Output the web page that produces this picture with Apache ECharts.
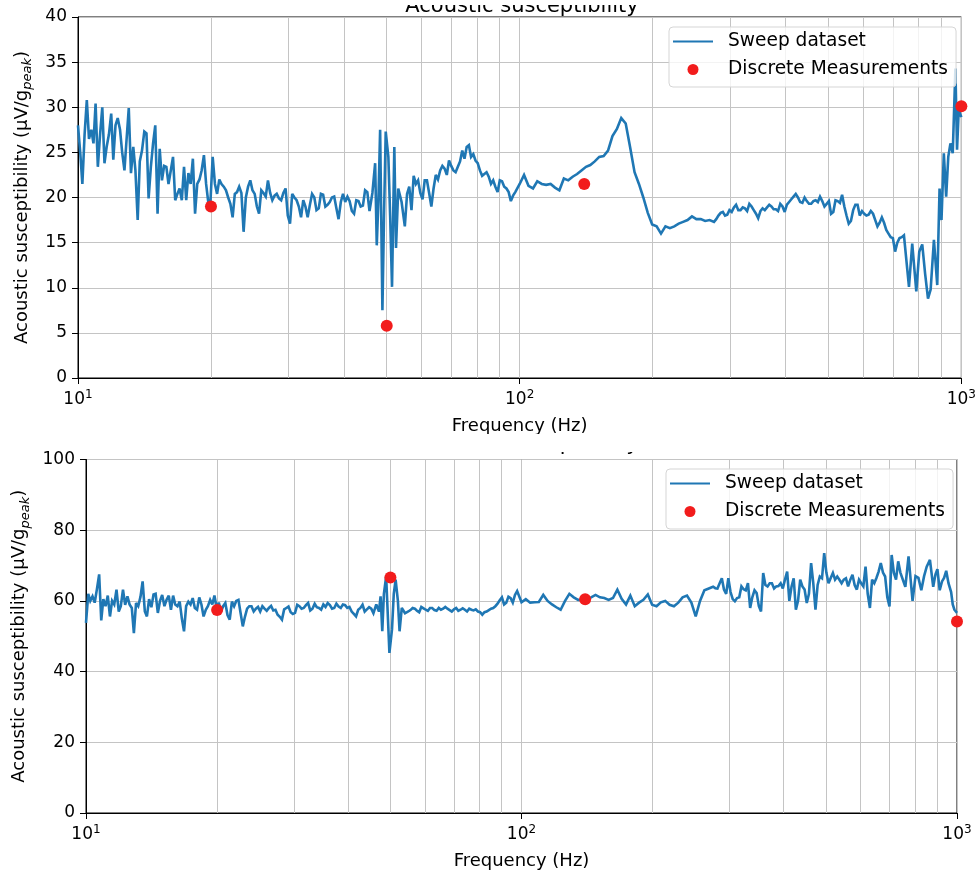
<!DOCTYPE html>
<html><head><meta charset="utf-8">
<script src="https://cdn.jsdelivr.net/npm/echarts@6/dist/echarts.min.js"></script>
<style>html,body{margin:0;padding:0;background:#fff}#c{width:979px;height:871px}</style>
</head><body><div id="c"></div>
<script>
const freqHz = [
10.00,10.12,10.23,10.35,10.47,10.59,10.72,10.84,10.96,11.09,
11.22,11.35,11.48,11.61,11.75,11.89,12.02,12.16,12.30,12.45,
12.59,12.74,12.88,13.03,13.18,13.34,13.49,13.65,13.80,13.96,
14.13,14.29,14.45,14.62,14.79,14.96,15.14,15.31,15.49,15.67,
15.85,16.03,16.22,16.41,16.60,16.79,16.98,17.18,17.38,17.58,
17.78,17.99,18.20,18.41,18.62,18.84,19.05,19.28,19.50,19.72,
19.95,20.42,20.89,21.38,21.88,22.39,22.91,23.44,23.99,24.55,
25.12,25.70,26.30,26.92,27.54,28.18,28.84,29.51,30.20,30.90,
31.62,32.36,33.11,33.88,34.67,35.48,36.31,37.15,38.02,38.90,
39.81,40.74,41.69,42.66,43.65,44.67,45.71,
46.40,47.07,47.47,47.90,48.31,48.89,49.30,49.74,50.43,50.90,51.40,52.02,52.48,53.10,54.03,
54.95,56.23,57.54,58.88,60.26,61.66,63.10,64.57,66.07,67.61,
69.18,70.79,72.44,74.13,75.86,77.62,79.43,81.28,83.18,85.11,
87.10,89.13,91.20,93.33,95.50,97.72,100.0,102.3,104.7,107.2,
109.6,112.2,114.8,117.5,120.2,123.0,125.9,128.8,131.8,134.9,
138.0,141.3,144.5,147.9,151.4,154.9,158.5,162.2,166.0,169.8,
173.8,177.8,182.0,186.2,190.5,195.0,199.5,204.2,208.9,213.8,
218.8,223.9,229.1,234.4,239.9,245.5,251.2,257.0,263.0,269.2,
275.4,281.8,288.4,295.1,302.0,309.0,316.2,323.6,331.1,338.8,
346.7,354.8,363.1,371.5,380.2,389.0,398.1,407.4,416.9,426.6,
436.5,446.7,457.1,467.7,478.6,489.8,501.2,512.9,524.8,537.0,
549.5,562.3,575.4,588.8,602.6,616.6,631.0,645.7,660.7,676.1,
691.8,707.9,724.4,741.3,
748,761,774,790.6,803,815.5,828,840.3,852,866.7,881.8,892.5,901.6,912.6,923.8,934,944.6,956,969.4,977.7,986.3,1000
];
const sweepTop = [
28.0,24.9,21.5,27.0,30.8,26.5,27.5,26.0,30.4,23.4,
27.0,30.0,23.8,25.6,27.0,29.3,24.2,28.0,28.8,27.5,
25.0,23.0,26.4,29.9,22.7,25.6,23.0,17.5,24.0,25.2,
27.3,27.1,19.9,23.4,26.0,28.0,18.2,25.4,21.9,23.5,
23.4,21.5,23.0,24.5,19.7,20.4,21.0,19.7,23.4,19.7,
22.7,21.5,24.3,18.2,21.5,22.0,23.0,24.7,21.5,19.5,
19.6,21.5,22.0,21.2,20.0,17.8,20.6,20.5,20.0,21.9,
20.4,18.2,20.5,21.9,19.7,20.4,19.7,21.0,17.1,20.0,
19.0,19.7,17.8,20.4,18.6,20.4,19.0,19.5,20.1,17.6,
20.4,20.1,18.5,19.7,19.0,20.8,18.5,
20.5,23.8,14.7,20.0,27.5,7.5,18.0,27.3,24.5,18.0,10.1,25.6,14.4,21.0,19.5,
16.8,21.2,22.4,21.9,19.8,21.9,19.0,22.5,23.0,23.2,
24.1,23.0,23.4,25.2,25.6,24.5,24.1,23.0,22.6,22.3,
21.9,20.6,21.8,21.0,19.6,20.6,21.5,22.5,21.3,21.0,
21.8,21.5,21.4,21.5,21.1,20.8,22.1,21.9,22.3,22.6,
23.0,23.4,23.6,24.0,24.5,24.6,25.2,26.8,27.6,28.8,
28.2,25.6,22.8,21.5,20.0,18.3,17.0,16.8,16.0,16.8,
16.6,16.8,17.1,17.3,17.5,17.9,17.6,17.6,17.4,17.5,
17.3,18.0,18.4,18.1,18.4,19.2,18.6,18.8,19.3,18.6,
17.7,18.8,18.9,19.0,18.7,19.3,18.4,19.5,20.1,20.0,
19.4,19.6,19.3,19.7,20.1,19.0,19.6,18.4,19.6,20.3,
18.0,17.4,19.2,18.0,18.2,18.1,18.2,16.8,17.8,16.4,
15.6,14.0,15.5,15.8,
16.0,10.1,14.9,9.6,14.0,14.8,11.5,8.8,9.8,15.3,10.3,21.0,17.5,24.9,20.1,24.5,26.0,24.9,34.3,25.3,29.7,28.9
];
const sweepBottom = [
53.8,62.0,60.0,61.3,59.5,63.2,67.5,54.5,60.5,58.5,
61.5,55.6,60.0,59.0,63.2,57.0,58.5,63.2,58.9,61.3,
59.0,58.0,50.9,59.4,58.5,61.2,65.5,57.0,55.6,60.5,
58.2,61.8,62.0,56.6,60.0,61.7,58.5,60.3,61.5,57.5,
61.5,59.0,58.5,59.8,55.0,51.4,58.5,59.8,59.0,60.8,
58.0,57.5,61.0,59.0,55.6,57.5,58.5,60.3,59.0,61.5,
58.0,57.0,59.4,54.7,58.5,60.3,52.8,57.8,58.5,57.8,
57.0,57.8,58.0,57.3,56.1,54.7,58.0,56.8,56.6,58.5,
58.0,59.4,57.8,58.2,57.5,58.3,58.8,58.0,58.4,59.0,
58.0,57.0,55.6,58.0,57.0,58.2,56.5,
59.0,57.0,61.3,51.4,62.0,66.9,67.0,45.3,52.0,62.0,66.0,60.0,51.4,58.0,56.5,
57.0,58.0,57.2,58.3,57.5,58.0,57.4,58.0,57.8,57.8,
57.0,58.0,57.5,57.5,57.8,57.3,57.0,56.1,57.0,57.8,
58.5,60.2,59.0,61.2,59.5,62.8,59.6,60.5,59.5,59.6,
59.7,61.7,60.0,59.0,58.2,57.5,60.0,62.0,61.0,60.3,
60.3,60.4,61.0,61.7,61.0,60.8,60.3,60.8,63.2,60.6,
59.0,61.5,58.5,59.5,60.3,61.8,58.9,58.5,59.6,60.0,
58.9,58.5,59.5,61.0,61.5,59.5,55.6,60.0,63.0,63.5,
64.0,63.5,66.4,62.0,62.5,59.9,61.0,63.3,65.0,61.0,
62.2,57.0,64.5,65.0,63.5,64.2,63.5,68.3,64.0,57.5,
66.0,63.2,62.0,65.0,64.5,66.4,68.0,66.5,66.0,66.0,
66.0,64.1,67.4,63.2,65.0,69.7,58.0,65.0,68.3,68.0,
61.0,73.0,66.0,68.0,
67.5,64.0,72.6,60.0,67.0,66.5,63.0,67.0,69.7,71.6,64.0,67.5,69.0,63.0,65.5,66.5,68.5,65.0,62.5,59.0,57.5,56.6
];
// extra sweep samples read between the points above, in the noisiest stretches
const freqFill = [
20.18,20.65,21.13,21.63,22.13,22.65,23.17,23.71,24.27,24.83,
25.41,26.00,26.61,27.23,27.86,28.51,29.17,29.85,30.55,31.26,
31.99,32.73,33.50,34.28,35.08,35.89,36.73,37.58,38.46,39.36,
40.27,41.21,42.17,43.15,44.16,45.19,
55.59,56.89,58.21,59.57,60.95,62.37,63.83,65.31,66.83,68.39,
69.98,71.61,73.28,74.99,76.74,78.52,80.35,82.22,84.14,86.10,
88.10,90.16,92.26,94.41,96.61,
278.6,285.1,291.7,298.5,305.5,312.6,319.9,327.3,335.0,342.8,
350.8,358.9,367.3,375.8,384.6,393.6,402.7,412.1,421.7,431.5,
441.6,451.9,462.4,473.2,484.2,495.5,507.0,518.8,530.9,543.3,
555.9,568.9,582.1,595.7,609.5,623.7,638.3,653.1,668.3,683.9,
699.8,716.1,732.8
];
const sweepTopFill = [
24.5,20.4,21.5,20.8,19.3,20.4,21.2,16.2,21.2,20.8,
19.0,20.8,20.1,20.5,20.2,19.9,20.5,18.0,20.4,19.7,
17.8,19.0,19.2,20.0,18.8,20.3,19.2,20.0,18.8,19.5,
19.5,19.6,18.2,19.6,19.1,20.6,
20.4,18.6,21.5,20.5,21.9,20.5,21.0,22.0,23.5,22.5,
23.5,22.8,24.0,24.3,25.8,24.8,23.8,22.4,22.8,21.5,
21.2,21.9,21.2,20.6,20.2,
17.6,18.3,18.0,18.6,18.9,18.6,18.9,18.5,19.0,18.2,
18.5,18.6,19.2,18.7,18.5,19.0,19.2,19.8,20.4,19.5,
20.0,19.3,19.6,19.5,19.6,19.3,18.2,19.7,19.4,19.0,
17.1,18.6,19.2,18.5,18.0,18.5,17.5,17.2,17.2,16.0,
15.5,15.0,15.6
];
const sweepBottomFill = [
59.5,58.5,56.0,59.8,60.0,56.5,55.5,58.5,57.0,58.3,
58.5,57.2,58.6,57.5,55.5,57.6,58.4,56.3,58.9,57.8,
58.8,57.3,59.2,58.0,59.0,59.4,57.8,59.2,58.0,58.8,
58.3,56.3,57.5,58.9,57.6,57.8,
57.4,57.8,56.8,57.9,57.2,58.0,57.2,57.5,58.3,57.4,
57.6,57.2,57.9,57.0,57.5,57.6,56.8,56.8,57.4,58.0,
59.2,61.0,59.5,60.8,61.7,
63.6,65.0,63.2,66.4,60.5,60.8,64.1,63.0,58.0,63.0,
58.5,67.9,64.1,65.0,64.1,65.0,66.0,60.0,66.4,60.0,
64.1,59.4,70.7,57.5,66.9,73.5,65.0,67.9,66.9,65.0,
66.4,66.0,64.5,66.0,64.1,62.0,66.0,66.5,70.7,66.9,
58.4,68.0,71.2
];
const discreteHz = [20, 50, 140, 1000];
const discreteTop = [19.0, 5.8, 21.5, 30.1];
const discreteBottom = [57.4, 66.6, 60.5, 54.2];
const minorGridHz = [20,30,40,50,60,70,80,90,200,300,400,500,600,700,800,900];
const titleText = 'Acoustic susceptibility';
const xName = 'Frequency (Hz)';
const legendNames = ['Sweep dataset', 'Discrete Measurements'];

const FONT = 'DejaVu Sans';
const GRIDC = '#c4c4c4';
const BLUE = '#1f77b4';
const RED = '#f21c1c';

function buildPairs(mainVals, fillVals){
  const pts = freqHz.map((f,i)=>[f, mainVals[i]]).concat(freqFill.map((f,i)=>[f, fillVals[i]]));
  pts.sort((a,b)=>a[0]-b[0]);
  return pts;
}

function xAx(gi){
  return {
    type:'log', logBase:10, min:10, max:1000, gridIndex:gi,
    name:xName, nameLocation:'middle', nameGap:39,
    nameTextStyle:{fontSize:18, color:'#000', fontFamily:FONT},
    axisLine:{show:true, onZero:false, lineStyle:{color:'#000', width:1}},
    axisTick:{show:true, length:6, lineStyle:{color:'#000'}},
    axisLabel:{margin:11, formatter:v=>'{b|10}{e|'+Math.round(Math.log10(v))+'}',
      rich:{b:{fontSize:17, lineHeight:22, color:'#000', fontFamily:FONT},
            e:{fontSize:12, lineHeight:12, verticalAlign:'top', color:'#000', fontFamily:FONT}}},
    splitLine:{show:true, lineStyle:{color:GRIDC, width:1}}
  };
}
function yAx(gi, max, step, gap){
  return {
    type:'value', min:0, max:max, interval:step, gridIndex:gi,
    name:'{m|Acoustic susceptibility (µV/g}{s|peak}{m|)}', nameLocation:'middle', nameRotate:90, nameGap:gap,
    nameTextStyle:{rich:{m:{fontSize:18, lineHeight:24, color:'#000', fontFamily:FONT},
                         s:{fontSize:13, lineHeight:14, fontStyle:'italic', verticalAlign:'bottom', color:'#000', fontFamily:FONT}}},
    axisLine:{show:true, lineStyle:{color:'#000', width:1}},
    axisTick:{show:true, length:6, lineStyle:{color:'#000'}},
    axisLabel:{margin:11, fontSize:17, color:'#000', fontFamily:FONT},
    splitLine:{show:true, lineStyle:{color:GRIDC, width:1}}
  };
}
function legendAt(left, top){
  return {
    left:left, top:top, orient:'vertical',
    data:[{name:legendNames[0], icon:'path://M0,0L40,0L40,2L0,2Z'},{name:legendNames[1], icon:'circle'}],
    itemWidth:40, itemHeight:11, itemGap:7,
    textStyle:{fontSize:18.6, color:'#000', fontFamily:FONT, lineHeight:21, padding:[0,0,0,10]},
    padding:[4,8,7,4], backgroundColor:'rgba(255,255,255,0.8)', borderColor:'#d5d5d5', borderWidth:1, borderRadius:4,
    selectedMode:false
  };
}
function sweep(gi, vals, fill){
  return {
    type:'line', name:legendNames[0], xAxisIndex:gi, yAxisIndex:gi,
    data:buildPairs(vals, fill), showSymbol:false, symbol:'none',
    lineStyle:{color:BLUE, width:2.6, join:'miter', miterLimit:3}, itemStyle:{color:BLUE}, z:2, silent:true,
    markLine:{silent:true, symbol:'none', z:1, label:{show:false}, animation:false,
      lineStyle:{color:GRIDC, width:1, type:'solid'}, emphasis:{disabled:true},
      data:minorGridHz.map(v=>({xAxis:v}))}
  };
}
function dots(gi, vals){
  return {
    type:'scatter', name:legendNames[1], xAxisIndex:gi, yAxisIndex:gi,
    data:discreteHz.map((f,i)=>[f, vals[i]]), symbolSize:12,
    itemStyle:{color:RED, opacity:1}, z:3, silent:true
  };
}

const chart = echarts.init(document.getElementById('c'), null, {renderer:'canvas'});
chart.setOption({
  animation:false,
  textStyle:{fontFamily:FONT},
  grid:[
    {left:78, right:13, top:17, height:361, show:true, borderColor:'#000', borderWidth:1},
    {left:86, right:22, top:459.5, height:354, show:true, borderColor:'#000', borderWidth:1}
  ],
  xAxis:[xAx(0), xAx(1)],
  yAxis:[yAx(0, 40, 5, 42), yAx(1, 100, 20, 52)],
  legend:[legendAt(669, 27), legendAt(666, 469)],
  series:[sweep(0, sweepTop, sweepTopFill), dots(0, discreteTop), sweep(1, sweepBottom, sweepBottomFill), dots(1, discreteBottom)],
  graphic:[
    {type:'text', x:522, y:6.5, z:50, style:{text:titleText, fontSize:21, fontFamily:FONT, fill:'#000', align:'center', verticalAlign:'middle', textAlign:'center', textVerticalAlign:'middle'}},
    {type:'rect', z:60, shape:{x:380, y:0, width:290, height:5}, style:{fill:'#ffffff', stroke:null}},
    {type:'text', x:522, y:445, z:50, style:{text:titleText, fontSize:21, fontFamily:FONT, fill:'#000', align:'center', verticalAlign:'middle', textAlign:'center', textVerticalAlign:'middle'}},
    {type:'rect', z:60, shape:{x:300, y:434, width:450, height:18}, style:{fill:'#ffffff', stroke:null}}
  ]
});
</script></body></html>
